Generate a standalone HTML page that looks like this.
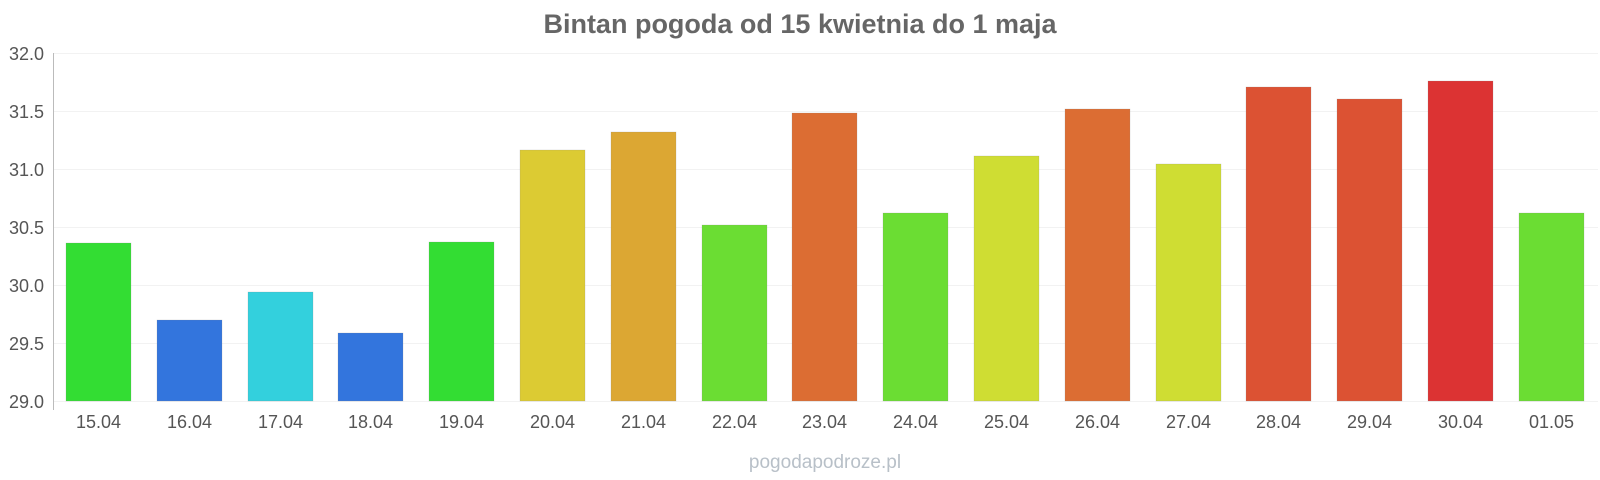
<!DOCTYPE html>
<html><head><meta charset="utf-8"><style>body{margin:0;background:#fff}svg{display:block}</style></head><body>
<svg width="1600" height="480" xmlns="http://www.w3.org/2000/svg" font-family="Liberation Sans, sans-serif">
<rect width="1600" height="480" fill="#fff"/>
<text x="800" y="33" text-anchor="middle" font-size="27" font-weight="bold" fill="#666">Bintan pogoda od 15 kwietnia do 1 maja</text>
<g stroke="#f2f2f2" stroke-width="1">
<line x1="53" y1="53.5" x2="1598" y2="53.5"/>
<line x1="53" y1="111.5" x2="1598" y2="111.5"/>
<line x1="53" y1="169.5" x2="1598" y2="169.5"/>
<line x1="53" y1="227.5" x2="1598" y2="227.5"/>
<line x1="53" y1="285.5" x2="1598" y2="285.5"/>
<line x1="53" y1="343.5" x2="1598" y2="343.5"/>
<line x1="53" y1="401.5" x2="1598" y2="401.5"/>
</g>
<line x1="53.5" y1="53" x2="53.5" y2="410" stroke="#bbb"/>
<g font-size="18" fill="#555" text-anchor="end">
<text x="44" y="60">32.0</text>
<text x="44" y="118">31.5</text>
<text x="44" y="176">31.0</text>
<text x="44" y="234">30.5</text>
<text x="44" y="292">30.0</text>
<text x="44" y="350">29.5</text>
<text x="44" y="408">29.0</text>
</g>
<g stroke-opacity="0.4" stroke="#888" stroke-width="0.5">
<rect x="66" y="243" width="65" height="158" fill="#33dd33"/>
<rect x="157" y="320" width="65" height="81" fill="#3375dd"/>
<rect x="248" y="292" width="65" height="109" fill="#33d0dd"/>
<rect x="338" y="333" width="65" height="68" fill="#3375dd"/>
<rect x="429" y="242" width="65" height="159" fill="#33dd33"/>
<rect x="520" y="150" width="65" height="251" fill="#dccb33"/>
<rect x="611" y="132" width="65" height="269" fill="#dca733"/>
<rect x="702" y="225" width="65" height="176" fill="#6bdd33"/>
<rect x="792" y="113" width="65" height="288" fill="#dc6d33"/>
<rect x="883" y="213" width="65" height="188" fill="#6bdd33"/>
<rect x="974" y="156" width="65" height="245" fill="#cfdd33"/>
<rect x="1065" y="109" width="65" height="292" fill="#dc6d33"/>
<rect x="1156" y="164" width="65" height="237" fill="#cfdd33"/>
<rect x="1246" y="87" width="65" height="314" fill="#dc5233"/>
<rect x="1337" y="99" width="65" height="302" fill="#dc5233"/>
<rect x="1428" y="81" width="65" height="320" fill="#dc3333"/>
<rect x="1519" y="213" width="65" height="188" fill="#6bdd33"/>
</g>
<g font-size="18" fill="#555" text-anchor="middle">
<text x="98.5" y="428">15.04</text>
<text x="189.5" y="428">16.04</text>
<text x="280.5" y="428">17.04</text>
<text x="370.5" y="428">18.04</text>
<text x="461.5" y="428">19.04</text>
<text x="552.5" y="428">20.04</text>
<text x="643.5" y="428">21.04</text>
<text x="734.5" y="428">22.04</text>
<text x="824.5" y="428">23.04</text>
<text x="915.5" y="428">24.04</text>
<text x="1006.5" y="428">25.04</text>
<text x="1097.5" y="428">26.04</text>
<text x="1188.5" y="428">27.04</text>
<text x="1278.5" y="428">28.04</text>
<text x="1369.5" y="428">29.04</text>
<text x="1460.5" y="428">30.04</text>
<text x="1551.5" y="428">01.05</text>
</g>
<text x="825" y="468" text-anchor="middle" font-size="19" fill="#b8c0c8">pogodapodroze.pl</text>
</svg>
</body></html>
